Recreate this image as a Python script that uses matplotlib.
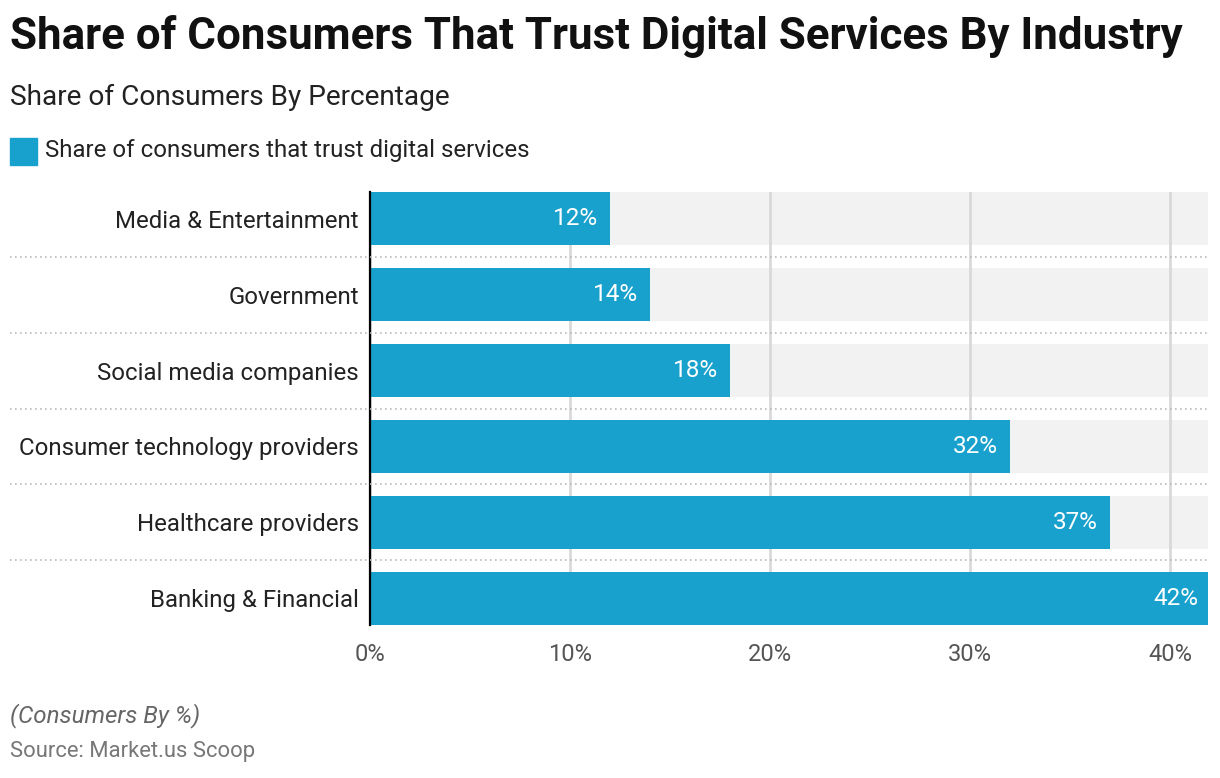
import matplotlib
matplotlib.use("Agg")
import matplotlib.pyplot as plt
from matplotlib.patches import Rectangle
from matplotlib.lines import Line2D

plt.rcParams["font.family"] = ["Roboto", "DejaVu Sans"]

# ------------------------------------------------------------------
# Data
# ------------------------------------------------------------------
industries = [
    "Media & Entertainment",
    "Government",
    "Social media companies",
    "Consumer technology providers",
    "Healthcare providers",
    "Banking & Financial",
]
trust_share = [12, 14, 18, 32, 37, 42]
x_ticks = [0, 10, 20, 30, 40]
x_max = 41.9

bar_color = "#19A1CD"
track_color = "#F2F2F2"

W, H = 1220, 778
fig = plt.figure(figsize=(W / 100, H / 100), dpi=100)

# axes box in pixels: left 370, right 1208, top 192, bottom 625
ax = fig.add_axes([370 / W, 1 - 625 / H, (1208 - 370) / W, (625 - 192) / H])

ypos = list(range(len(industries)))
ax.barh(ypos, [x_max] * len(ypos), height=0.7, color=track_color, zorder=0)
ax.barh(ypos, trust_share, height=0.7, color=bar_color, zorder=2)

for y, v in zip(ypos, trust_share):
    ax.annotate(f"{v}%", (v, y), xytext=(-12, 0), textcoords="offset pixels",
                ha="right", va="center", color="white", fontsize=17.5,
                zorder=3, annotation_clip=False)

ax.set_xlim(0, x_max)
ax.set_ylim(len(ypos) - 1 + 0.35, -0.35)
ax.set_xticks(x_ticks)
ax.set_xticklabels([f"{t}%" for t in x_ticks])
ax.set_yticks(ypos)
ax.set_yticklabels(industries)
ax.tick_params(axis="x", length=0, pad=13, labelsize=17, labelcolor="#555555")
ax.tick_params(axis="y", length=0, pad=8, labelsize=17.3, labelcolor="#222222")

ax.set_axisbelow(True)
ax.grid(axis="x", color="#D9D9D9", linewidth=2)
for s in ["top", "right", "bottom"]:
    ax.spines[s].set_visible(False)
ax.spines["left"].set_color("black")
ax.spines["left"].set_linewidth(1.6)
ax.spines["left"].set_zorder(4)

# dotted separators between categories
for y in ypos[:-1]:
    y_fig = ax.transData.transform((0, y + 0.5))[1] / H
    fig.add_artist(Line2D([10 / W, 1208 / W], [y_fig, y_fig], color="#BBBBBB",
                          linewidth=1.2, linestyle=(0, (1, 2))))

# headings
fig.text(10 / W, 1 - 37 / H, "Share of Consumers That Trust Digital Services By Industry",
         fontsize=31.6, fontweight="bold", va="center", color="#111111")
fig.text(10 / W, 1 - 97 / H, "Share of Consumers By Percentage",
         fontsize=20.2, va="center", color="#222222")
fig.add_artist(Rectangle((10 / W, 1 - 165 / H), 27 / W, 27 / H, color=bar_color,
                         transform=fig.transFigure))
fig.text(45 / W, 1 - 150 / H, "Share of consumers that trust digital services",
         fontsize=17.25, va="center", color="#222222")

# footer
fig.text(10 / W, 1 - 716 / H, "(Consumers By %)", fontsize=17.4, style="italic",
         va="center", color="#666666")
fig.text(10 / W, 1 - 752 / H, "Source: Market.us Scoop", fontsize=15.8,
         va="center", color="#777777")

fig.savefig("out.png", dpi=100)
